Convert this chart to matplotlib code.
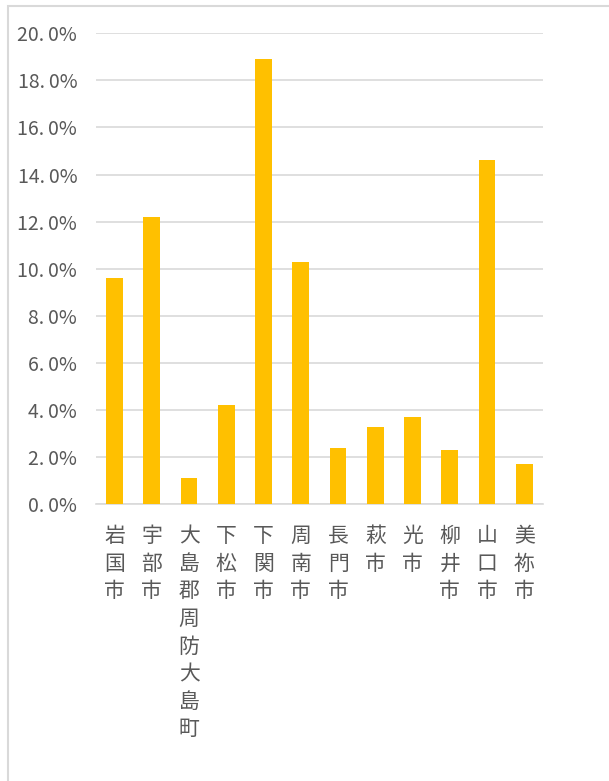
import matplotlib.pyplot as plt
from matplotlib.patches import Rectangle
from matplotlib.ticker import FuncFormatter

plt.rcParams['font.family'] = ['Noto Sans CJK JP', 'DejaVu Sans']

cities = ['岩国市', '宇部市', '大島郡周防大島町', '下松市', '下関市', '周南市',
          '長門市', '萩市', '光市', '柳井市', '山口市', '美祢市']
shares = [9.6, 12.2, 1.1, 4.2, 18.9, 10.3, 2.4, 3.3, 3.7, 2.3, 14.6, 1.7]
yticks = [0, 2, 4, 6, 8, 10, 12, 14, 16, 18, 20]

fig = plt.figure(figsize=(6.09, 7.81), dpi=100)
ax = fig.add_axes([0.1576, 0.3543, 0.734, 0.6031])

x = range(len(cities))
ax.bar(x, shares, width=0.45, color='#FFC000', zorder=3)

ax.set_xlim(-0.5, len(cities) - 0.5)
ax.set_ylim(0, 20)
ax.set_yticks(yticks)
ax.yaxis.set_major_formatter(FuncFormatter(lambda v, p: f'{v:.1f}'.replace('.', '.\u2009') + '%'))
ax.grid(axis='y', color='#D9D9D9', linewidth=1.2, zorder=0)

# city names stacked one character per line
ax.set_xticks(list(x))
ax.set_xticklabels(['\n'.join(c) for c in cities], va='top', linespacing=1.33)
ax.tick_params(axis='x', length=0, pad=15, labelsize=15, colors='#595959')
ax.tick_params(axis='y', length=0, pad=13.5, labelsize=14, colors='#595959')

for s in ['top', 'right', 'left']:
    ax.spines[s].set_visible(False)
ax.spines['bottom'].set_color('#D9D9D9')
ax.spines['bottom'].set_linewidth(1.2)

# chart frame
fig.patches.append(Rectangle((8 / 609, -0.05), 1.0, 1 - 6 / 781 + 0.05,
                             transform=fig.transFigure, fill=False,
                             edgecolor='#D9D9D9', linewidth=1.5))

fig.savefig('out.png', dpi=100)
